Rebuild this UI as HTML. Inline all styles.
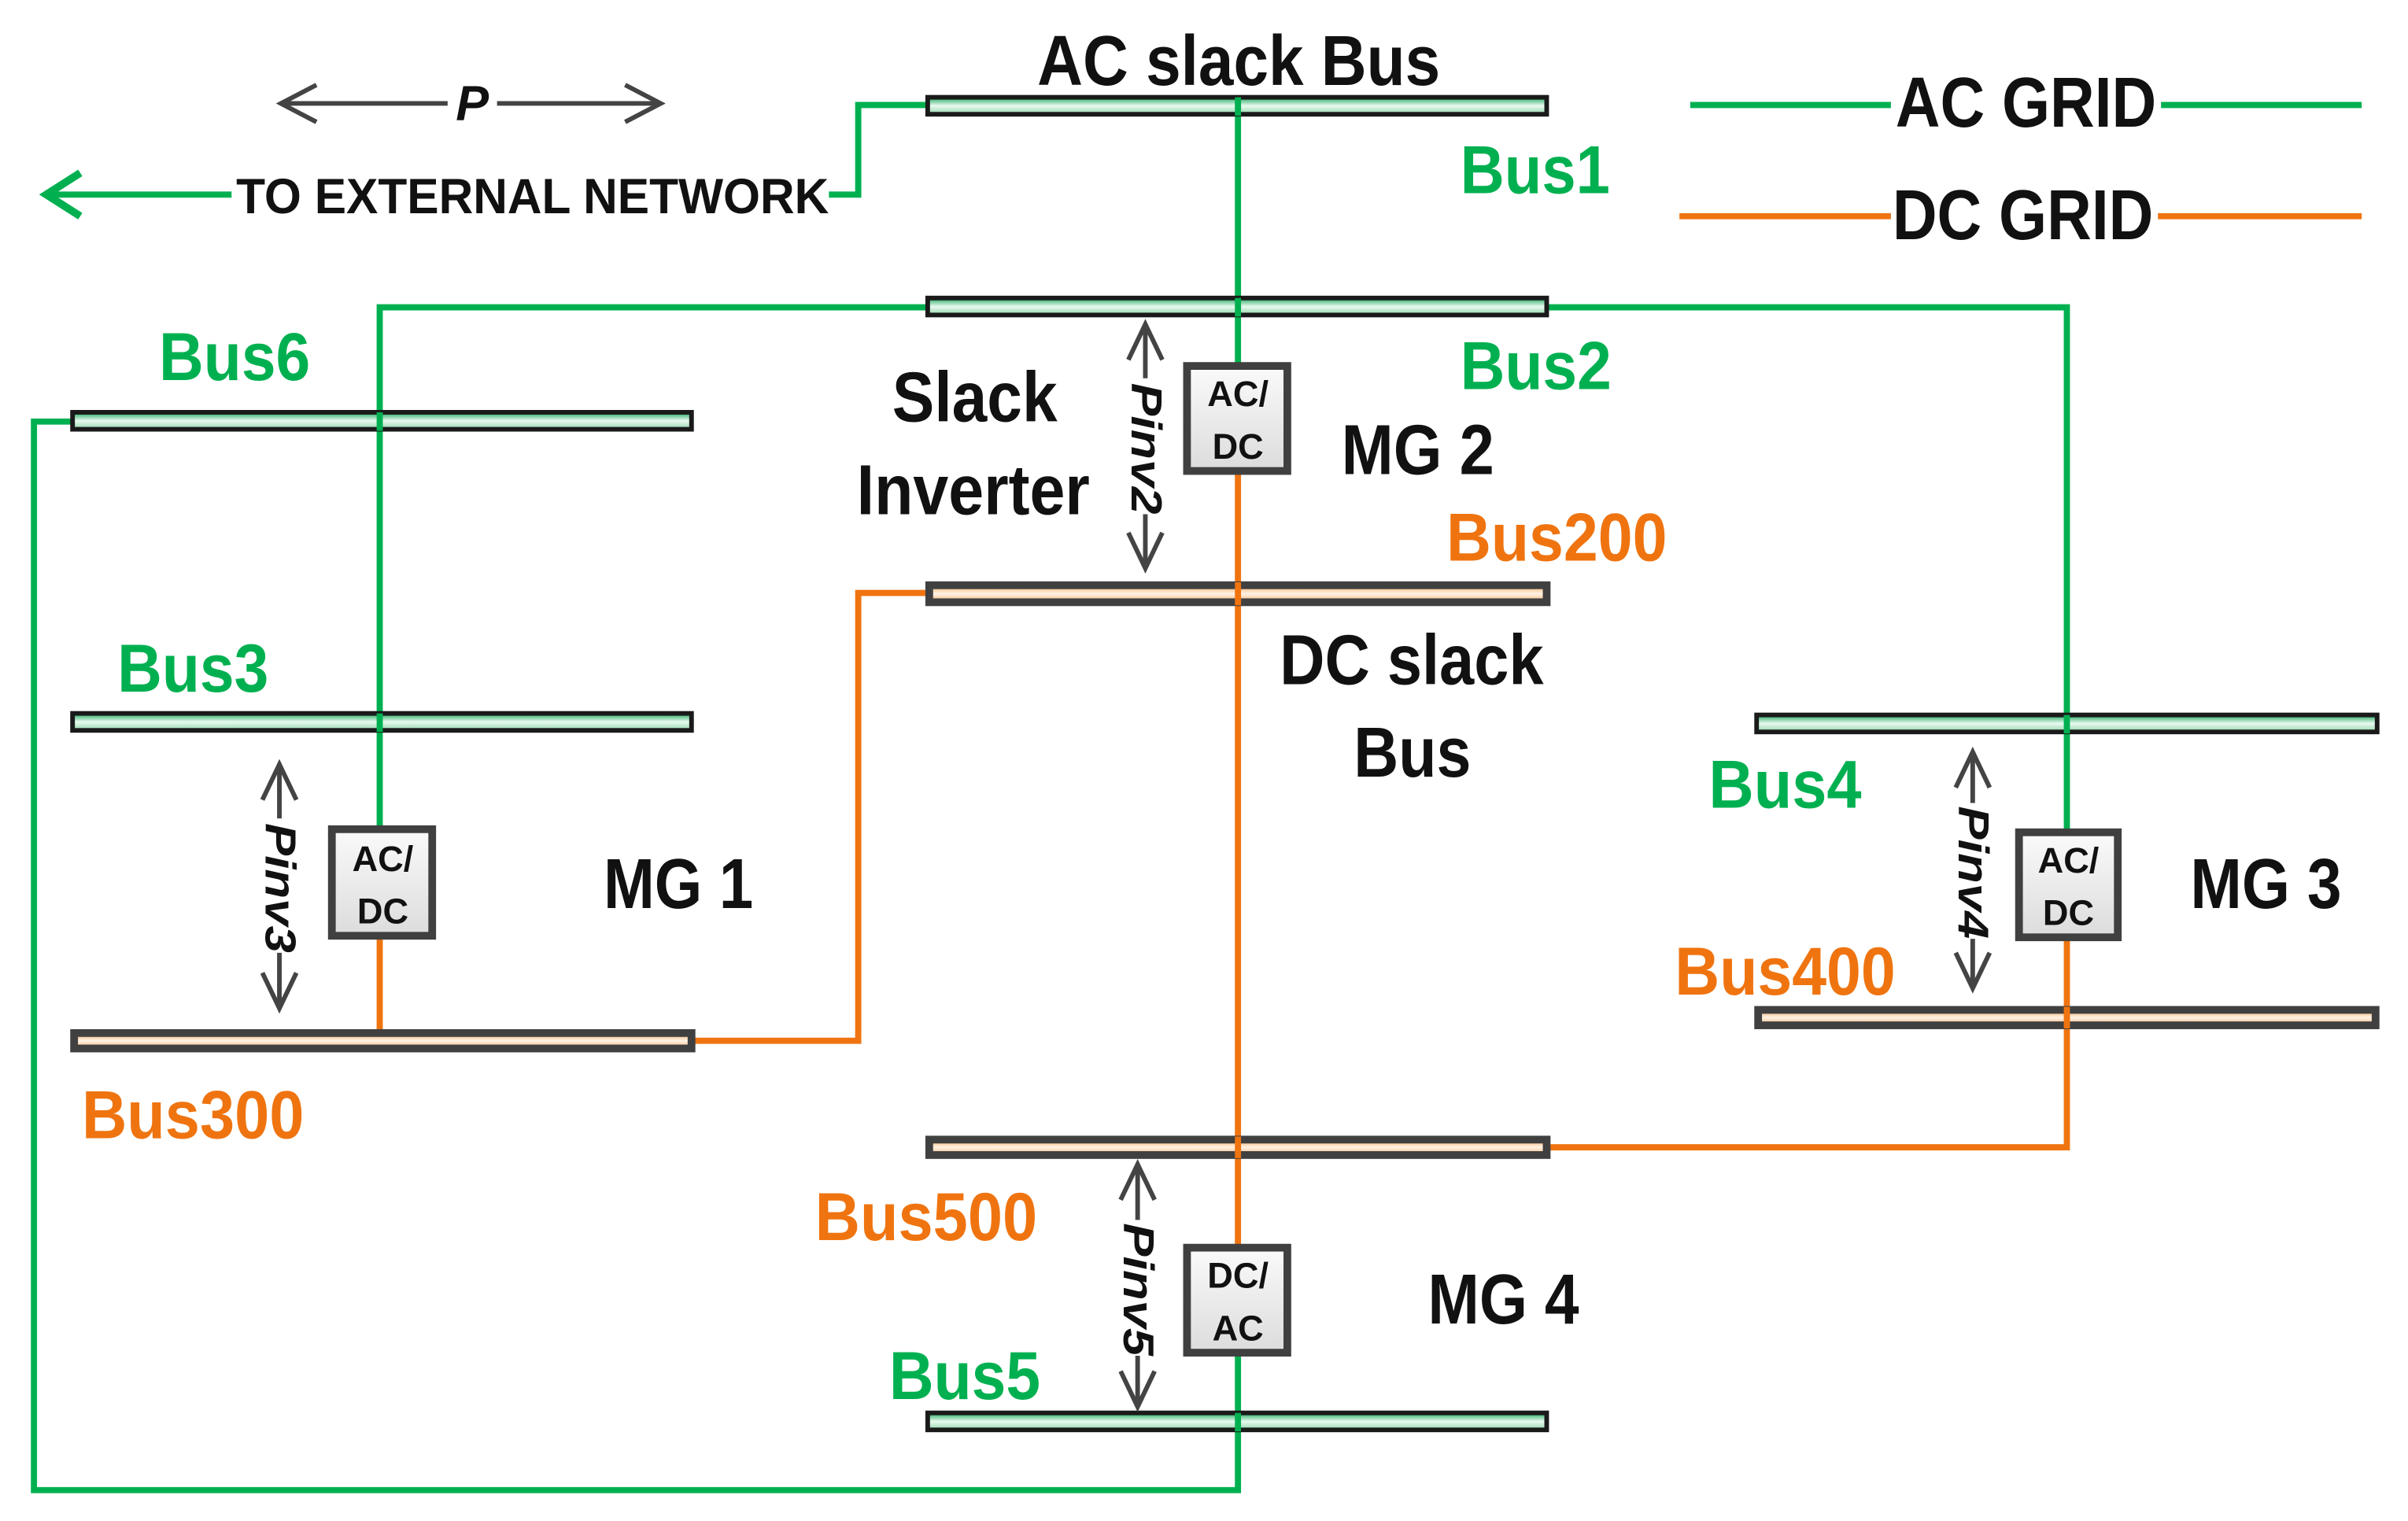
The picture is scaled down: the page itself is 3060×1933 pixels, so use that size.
<!DOCTYPE html>
<html><head><meta charset="utf-8"><style>
html,body{margin:0;padding:0;background:#fff;}
svg{display:block;}
text{font-family:"Liberation Sans Narrow","Liberation Sans",sans-serif;font-weight:bold;}
</style></head><body>
<svg width="3060" height="1933" viewBox="0 0 1560 985" preserveAspectRatio="none" xmlns="http://www.w3.org/2000/svg">
<defs>
<linearGradient id="ga" x1="0" y1="0" x2="0" y2="1"><stop offset="0" stop-color="#1aa65a"/><stop offset="0.5" stop-color="#eafaf0"/><stop offset="1" stop-color="#8fd6a8"/></linearGradient>
<linearGradient id="gd" x1="0" y1="0" x2="0" y2="1"><stop offset="0" stop-color="#f4a860"/><stop offset="0.5" stop-color="#fff3e6"/><stop offset="1" stop-color="#f4b070"/></linearGradient>
<linearGradient id="gb" x1="0" y1="0" x2="0" y2="1"><stop offset="0" stop-color="#fafafa"/><stop offset="1" stop-color="#dcdcdc"/></linearGradient>
</defs>
<g fill="none" stroke-width="4">
<!-- AC green lines -->
<g stroke="#00b050">
<polyline points="600,68 556,68 556,126 537,126"/>
<line x1="150" y1="126" x2="30" y2="126"/>
<polyline points="52,112 30,126 52,140" stroke-width="5"/>
<line x1="802" y1="75" x2="802" y2="236"/>
<polyline points="246,535 246,199 600,199"/>
<polyline points="1003,199 1339,199 1339,537"/>
<polyline points="46,273 22,273 22,965 802,965 802,878"/>
<line x1="1095" y1="68" x2="1225" y2="68"/>
<line x1="1400" y1="68" x2="1530" y2="68"/>
</g>
<g stroke="#ef7410">
<line x1="802" y1="307" x2="802" y2="806"/>
<polyline points="450,674 556,674 556,384 600,384"/>
<line x1="246" y1="608" x2="246" y2="667"/>
<polyline points="1339,609 1339,743 1004,743"/>
<line x1="1088" y1="140" x2="1225" y2="140"/>
<line x1="1398" y1="140" x2="1530" y2="140"/>
</g>
</g>
<!-- AC bars -->
<g stroke="#1a1a1a" stroke-width="3" fill="url(#ga)">
<rect x="601" y="63" width="401" height="11"/>
<rect x="601" y="193" width="401" height="11"/>
<rect x="47" y="267" width="401" height="11"/>
<rect x="47" y="462" width="401" height="11"/>
<rect x="1138" y="463" width="402" height="11"/>
<rect x="601" y="915" width="401" height="11"/>
</g>
<!-- DC bars -->
<g stroke="#404040" stroke-width="5" fill="url(#gd)">
<rect x="602" y="379" width="400" height="11"/>
<rect x="48" y="669" width="400" height="10"/>
<rect x="1139" y="654" width="400" height="10"/>
<rect x="602" y="738" width="400" height="10"/>
</g>
<!-- vertical lines crossing bars -->
<line x1="802" y1="63" x2="802" y2="75" stroke="#00b050" stroke-width="4"/>
<line x1="802" y1="193" x2="802" y2="205" stroke="#00b050" stroke-width="4"/>
<line x1="246" y1="267" x2="246" y2="279" stroke="#00b050" stroke-width="4"/>
<line x1="246" y1="462" x2="246" y2="474" stroke="#00b050" stroke-width="4"/>
<line x1="1339" y1="463" x2="1339" y2="475" stroke="#00b050" stroke-width="4"/>
<line x1="802" y1="915" x2="802" y2="927" stroke="#00b050" stroke-width="4"/>
<line x1="802" y1="377" x2="802" y2="392" stroke="#ef7410" stroke-width="4"/>
<line x1="802" y1="736" x2="802" y2="750" stroke="#ef7410" stroke-width="4"/>
<line x1="1339" y1="652" x2="1339" y2="666" stroke="#ef7410" stroke-width="4"/>
<!-- boxes -->
<g stroke="#404040" stroke-width="5" fill="url(#gb)">
<rect x="769" y="237" width="65" height="68"/>
<rect x="215" y="537" width="65" height="69"/>
<rect x="1308" y="539" width="64" height="68"/>
<rect x="769" y="808" width="65" height="68"/>
</g>
<g font-size="23" fill="#111" text-anchor="middle" style="font-family:'Liberation Sans',sans-serif">
<text x="802" y="263">AC/</text><text x="802" y="297">DC</text>
<text x="248" y="564">AC/</text><text x="248" y="598">DC</text>
<text x="1340" y="565">AC/</text><text x="1340" y="599">DC</text>
<text x="802" y="834">DC/</text><text x="802" y="868">AC</text>
</g>
<!-- gray double arrows -->
<g stroke="#444" stroke-width="3" fill="none">
<line x1="182" y1="67" x2="290" y2="67"/><line x1="322" y1="67" x2="428" y2="67"/>
<polyline points="205,55 182,67 205,79"/><polyline points="405,55 428,67 405,79"/>
<line x1="742" y1="210" x2="742" y2="245"/><line x1="742" y1="333" x2="742" y2="368"/>
<polyline points="731,233 742,210 753,233"/><polyline points="731,345 742,368 753,345"/>
<line x1="181" y1="495" x2="181" y2="530"/><line x1="181" y1="617" x2="181" y2="653"/>
<polyline points="170,518 181,495 192,518"/><polyline points="170,630 181,653 192,630"/>
<line x1="1278" y1="487" x2="1278" y2="520"/><line x1="1278" y1="608" x2="1278" y2="640"/>
<polyline points="1267,510 1278,487 1289,510"/><polyline points="1267,617 1278,640 1289,617"/>
<line x1="737" y1="754" x2="737" y2="790"/><line x1="737" y1="878" x2="737" y2="911"/>
<polyline points="726,777 737,754 748,777"/><polyline points="726,888 737,911 748,888"/>
</g>
<g font-size="28" fill="#111" font-style="italic" style="font-family:'Liberation Sans',sans-serif">
<text x="306" y="78" text-anchor="middle" font-size="32">P</text>
<text transform="translate(733,248) rotate(90)" textLength="85" lengthAdjust="spacingAndGlyphs">Pinv2</text>
<text transform="translate(172,533) rotate(90)" textLength="84" lengthAdjust="spacingAndGlyphs">Pinv3</text>
<text transform="translate(1269,522) rotate(90)" textLength="86" lengthAdjust="spacingAndGlyphs">Pinv4</text>
<text transform="translate(728,792) rotate(90)" textLength="86" lengthAdjust="spacingAndGlyphs">Pinv5</text>
</g>
<!-- black labels -->
<g fill="#111" font-size="46">
<text x="672" y="55" textLength="261" lengthAdjust="spacingAndGlyphs">AC slack Bus</text>
<text x="153" y="138" font-size="32" textLength="384" lengthAdjust="spacingAndGlyphs">TO EXTERNAL NETWORK</text>
<text x="1228" y="82" textLength="169" lengthAdjust="spacingAndGlyphs">AC GRID</text>
<text x="1226" y="155" textLength="169" lengthAdjust="spacingAndGlyphs">DC GRID</text>
<text x="578" y="273" textLength="107" lengthAdjust="spacingAndGlyphs">Slack</text>
<text x="555" y="333" textLength="151" lengthAdjust="spacingAndGlyphs">Inverter</text>
<text x="869" y="307" textLength="99" lengthAdjust="spacingAndGlyphs">MG 2</text>
<text x="829" y="443" textLength="171" lengthAdjust="spacingAndGlyphs">DC slack</text>
<text x="877" y="503" textLength="76" lengthAdjust="spacingAndGlyphs">Bus</text>
<text x="391" y="588" textLength="97" lengthAdjust="spacingAndGlyphs">MG 1</text>
<text x="1419" y="588" textLength="98" lengthAdjust="spacingAndGlyphs">MG 3</text>
<text x="925" y="857" textLength="98" lengthAdjust="spacingAndGlyphs">MG 4</text>
</g>
<g fill="#00b050" font-size="44">
<text x="946" y="125" textLength="97" lengthAdjust="spacingAndGlyphs">Bus1</text>
<text x="946" y="252" textLength="98" lengthAdjust="spacingAndGlyphs">Bus2</text>
<text x="103" y="246" textLength="98" lengthAdjust="spacingAndGlyphs">Bus6</text>
<text x="76" y="448" textLength="98" lengthAdjust="spacingAndGlyphs">Bus3</text>
<text x="1107" y="523" textLength="99" lengthAdjust="spacingAndGlyphs">Bus4</text>
<text x="576" y="906" textLength="98" lengthAdjust="spacingAndGlyphs">Bus5</text>
</g>
<g fill="#ef7410" font-size="44">
<text x="937" y="363" textLength="143" lengthAdjust="spacingAndGlyphs">Bus200</text>
<text x="53" y="737" textLength="144" lengthAdjust="spacingAndGlyphs">Bus300</text>
<text x="1085" y="644" textLength="143" lengthAdjust="spacingAndGlyphs">Bus400</text>
<text x="528" y="803" textLength="144" lengthAdjust="spacingAndGlyphs">Bus500</text>
</g>
</svg>
</body></html>
